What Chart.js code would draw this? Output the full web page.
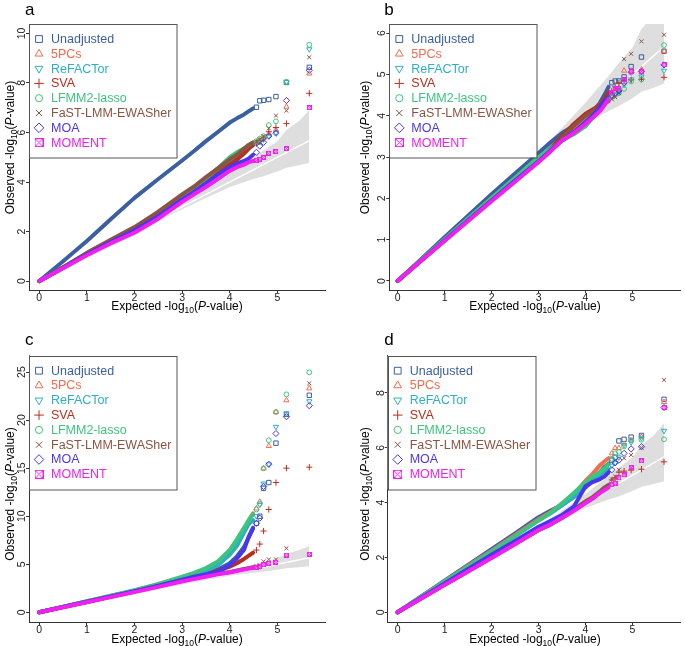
<!DOCTYPE html>
<html>
<head>
<meta charset="utf-8">
<script src="https://cdn.jsdelivr.net/npm/chart.js@4.4.1/dist/chart.umd.min.js"></script>
<style>
  body { margin: 0; background: #fff; width: 685px; height: 646px; position: relative; overflow: hidden; }
  canvas { position: absolute; }
</style>
</head>
<body>
<canvas id="pa" width="342" height="323" style="left:0;top:0"></canvas>
<canvas id="pb" width="343" height="323" style="left:342px;top:0"></canvas>
<canvas id="pc" width="342" height="323" style="left:0;top:323px"></canvas>
<canvas id="pd" width="343" height="323" style="left:342px;top:323px"></canvas>
<script>
// ---- data ----
const seriesNames = ["Unadjusted", "5PCs", "ReFACTor", "SVA", "LFMM2-lasso", "FaST-LMM-EWASher", "MOA", "MOMENT"];
const seriesColors = ["#3B5FA0", "#F46C4E", "#2EAFC2", "#B7301E", "#3DC57E", "#8B5440", "#4A35F0", "#F020F0"];

// expected -log10(P) positions: dense part of each curve, then the top-ranked single points
const bodyX = [0, 0.5, 1, 1.5, 2, 2.5, 3, 3.25, 3.5, 3.75, 4, 4.15, 4.3, 4.4, 4.49];
const tailX = [4.56, 4.63, 4.71, 4.82, 4.97, 5.19, 5.67];

// grey confidence band and the y = x reference line
const bandX  = [0, 1, 2, 3, 3.5, 4, 4.5, 4.67, 5.0, 5.19, 5.45, 5.67];
const bandLo = [0, 0.99, 1.96, 2.9, 3.35, 3.8, 4.12, 4.21, 4.42, 4.58, 4.68, 4.78];
const bandHi = [0, 1.01, 2.05, 3.13, 3.7, 4.32, 4.98, 5.22, 5.65, 6.1, 6.45, 6.9];
const diagX  = [0, 5.67];

const xTicks = [0, 1, 2, 3, 4, 5];
const yTicksA = [0, 2, 4, 6, 8, 10];
const yTicksB = [0, 1, 2, 3, 4, 5, 6];
const yTicksC = [0, 5, 10, 15, 20, 25];
const yTicksD = [0, 2, 4, 6, 8];

// panel a
const bodyA = [
  [0, 0.8, 1.62, 2.5, 3.36, 4.12, 4.87, 5.25, 5.65, 6.02, 6.4, 6.57, 6.73, 6.86, 6.97],
  [0, 0.54, 1.1, 1.62, 2.12, 2.72, 3.4, 3.7, 4.05, 4.4, 4.72, 4.95, 5.25, 5.45, 5.55],
  [0, 0.54, 1.1, 1.63, 2.13, 2.73, 3.42, 3.72, 4.08, 4.45, 4.78, 4.98, 5.2, 5.38, 5.48],
  [0, 0.54, 1.1, 1.62, 2.1, 2.7, 3.38, 3.68, 4.0, 4.35, 4.7, 4.9, 5.15, 5.35, 5.5],
  [0, 0.55, 1.12, 1.64, 2.15, 2.76, 3.45, 3.78, 4.15, 4.55, 5.0, 5.2, 5.35, 5.5, 5.6],
  [0, 0.56, 1.14, 1.67, 2.18, 2.8, 3.5, 3.82, 4.2, 4.55, 4.92, 5.1, 5.35, 5.5, 5.6],
  [0, 0.53, 1.08, 1.58, 2.05, 2.62, 3.3, 3.6, 3.95, 4.3, 4.6, 4.75, 4.85, 4.95, 5.1],
  [0, 0.52, 1.04, 1.52, 1.95, 2.52, 3.2, 3.5, 3.8, 4.12, 4.45, 4.6, 4.7, 4.8, 4.85]
];
const tailA = [
  [7.02, 7.28, 7.3, 7.33, 7.45, 8.02, 8.63],
  [5.6, 5.68, 5.78, 5.95, 6.1, 7.04, 8.38],
  [5.55, 5.62, 5.72, 5.85, 6.0, 8.04, 9.36],
  [5.58, 5.66, 5.75, 6.03, 6.2, 6.36, 7.58],
  [5.65, 5.75, 5.85, 6.3, 6.45, 8.05, 9.54],
  [5.62, 5.72, 5.85, 6.17, 6.68, 6.88, 9.04],
  [5.2, 5.45, 5.6, 5.85, 5.97, 7.29, 8.51],
  [4.88, 4.92, 4.99, 5.16, 5.23, 5.35, 7.0]
];

// panel b
const bodyB = [
  [0, 0.53, 1.06, 1.58, 2.1, 2.6, 3.1, 3.35, 3.58, 3.75, 3.95, 4.1, 4.3, 4.5, 4.7],
  [0, 0.5, 1.0, 1.5, 1.98, 2.47, 2.95, 3.2, 3.45, 3.7, 3.95, 4.1, 4.25, 4.4, 4.5],
  [0, 0.5, 1.0, 1.5, 1.99, 2.48, 2.97, 3.22, 3.45, 3.6, 3.75, 3.95, 4.15, 4.3, 4.4],
  [0, 0.5, 0.99, 1.48, 1.97, 2.45, 2.93, 3.2, 3.5, 3.8, 4.05, 4.15, 4.25, 4.4, 4.55],
  [0, 0.51, 1.01, 1.51, 2.01, 2.5, 3.0, 3.2, 3.4, 3.55, 3.75, 3.95, 4.15, 4.3, 4.4],
  [0, 0.49, 0.98, 1.46, 1.95, 2.42, 2.88, 3.15, 3.45, 3.75, 4.0, 4.1, 4.2, 4.3, 4.35],
  [0, 0.49, 0.98, 1.47, 1.95, 2.43, 2.9, 3.15, 3.4, 3.6, 3.85, 4.0, 4.2, 4.35, 4.45],
  [0, 0.49, 0.97, 1.45, 1.93, 2.4, 2.88, 3.13, 3.4, 3.58, 3.8, 3.95, 4.1, 4.25, 4.4]
];
const tailB = [
  [4.8, 4.84, 4.84, 4.94, 5.19, 5.42, 5.56],
  [4.55, 4.6, 4.67, 5.09, 5.09, 5.12, 5.56],
  [4.45, 4.5, 4.55, 4.75, 4.88, 4.95, 5.09],
  [4.6, 4.7, 4.79, 4.85, 4.87, 4.88, 4.93],
  [4.45, 4.5, 4.55, 4.65, 4.83, 4.88, 5.71],
  [4.4, 4.45, 4.55, 5.37, 5.5, 5.8, 5.96],
  [4.5, 4.55, 4.6, 4.8, 5.05, 5.07, 5.23],
  [4.55, 4.65, 4.65, 4.87, 5.07, 5.07, 5.23]
];

// panel c
const bodyC = [
  [0, 0.56, 1.12, 1.67, 2.22, 2.8, 3.45, 3.75, 4.1, 4.45, 5.1, 5.8, 6.8, 7.8, 8.7],
  [0, 0.56, 1.13, 1.7, 2.27, 2.9, 3.6, 3.95, 4.4, 5.0, 6.2, 7.2, 8.6, 9.6, 10.3],
  [0, 0.56, 1.12, 1.68, 2.25, 2.85, 3.55, 3.9, 4.3, 4.9, 6.0, 6.9, 8.3, 9.2, 9.6],
  [0, 0.55, 1.1, 1.65, 2.2, 2.78, 3.4, 3.68, 3.95, 4.3, 4.75, 5.1, 5.55, 5.9, 6.2],
  [0, 0.58, 1.15, 1.72, 2.3, 2.95, 3.7, 4.1, 4.6, 5.3, 6.5, 7.6, 8.8, 9.6, 10.2],
  [0, 0.54, 1.08, 1.62, 2.15, 2.7, 3.3, 3.55, 3.8, 4.0, 4.2, 4.35, 4.5, 4.6, 4.7],
  [0, 0.55, 1.1, 1.65, 2.2, 2.78, 3.4, 3.7, 3.95, 4.2, 4.9, 5.6, 6.5, 7.9, 8.8],
  [0, 0.52, 1.05, 1.58, 2.1, 2.65, 3.2, 3.45, 3.7, 3.95, 4.15, 4.3, 4.45, 4.55, 4.6]
];
const tailC = [
  [9.26, 10.0, 12.9, 13.5, 17.6, 20.6, 22.58],
  [10.8, 11.5, 14.98, 17.3, 20.84, 22.06, 23.3],
  [10.0, 11.2, 13.4, 15.4, 19.3, 20.7, 21.96],
  [6.48, 7.1, 8.46, 10.7, 13.5, 15.0, 15.1],
  [10.7, 11.3, 14.98, 17.9, 20.84, 22.68, 24.97],
  [4.8, 4.9, 5.3, 5.5, 5.5, 6.66, 23.83],
  [9.26, 9.8, 13.1, 15.4, 18.6, 20.35, 21.5],
  [4.7, 4.8, 4.95, 5.1, 5.2, 5.96, 6.03]
];

// panel d
const bodyD = [
  [0, 0.58, 1.15, 1.73, 2.3, 2.88, 3.47, 3.7, 3.92, 4.2, 4.55, 4.8, 5.1, 5.3, 5.42],
  [0, 0.57, 1.13, 1.7, 2.25, 2.82, 3.4, 3.65, 3.95, 4.3, 4.8, 5.05, 5.35, 5.5, 5.62],
  [0, 0.56, 1.12, 1.67, 2.22, 2.78, 3.35, 3.6, 3.9, 4.2, 4.6, 4.8, 5.0, 5.12, 5.22],
  [0, 0.5, 1.0, 1.5, 2.0, 2.5, 3.0, 3.2, 3.45, 3.72, 4.0, 4.15, 4.35, 4.5, 4.6],
  [0, 0.56, 1.12, 1.66, 2.2, 2.77, 3.35, 3.62, 3.98, 4.35, 4.75, 4.95, 5.1, 5.25, 5.4],
  [0, 0.5, 1.0, 1.5, 2.0, 2.5, 3.0, 3.2, 3.45, 3.75, 4.05, 4.2, 4.4, 4.55, 4.65],
  [0, 0.53, 1.05, 1.58, 2.1, 2.6, 3.12, 3.33, 3.55, 3.85, 4.6, 4.75, 4.85, 4.95, 5.1],
  [0, 0.5, 1.0, 1.49, 1.98, 2.48, 3.0, 3.2, 3.45, 3.7, 3.98, 4.15, 4.35, 4.45, 4.55]
];
const tailD = [
  [5.55, 5.66, 6.25, 6.31, 6.39, 6.45, 7.77],
  [5.8, 5.99, 5.99, 6.15, 6.27, 6.4, 7.67],
  [5.35, 5.45, 5.65, 6.1, 6.2, 6.35, 6.62],
  [4.83, 4.9, 5.11, 5.15, 5.19, 5.22, 5.49],
  [5.6, 5.8, 5.85, 6.05, 6.27, 6.29, 6.31],
  [4.85, 4.95, 5.2, 5.62, 5.74, 6.0, 8.48],
  [5.2, 5.45, 5.55, 5.8, 5.96, 6.04, 7.47],
  [4.65, 4.71, 4.9, 5.01, 5.28, 5.52, 7.47]
];

// ---- styling ----
const FONT = "'Liberation Sans', Arial, Helvetica, sans-serif";

// R's pch 7 (square with a cross) as an image point style
function boxCross(size, color) {
  const c = document.createElement("canvas");
  c.width = size; c.height = size;
  const g = c.getContext("2d");
  g.strokeStyle = color; g.lineWidth = 1;
  g.strokeRect(0.5, 0.5, size - 1, size - 1);
  g.beginPath();
  g.moveTo(0.5, 0.5); g.lineTo(size - 0.5, size - 0.5);
  g.moveTo(size - 0.5, 0.5); g.lineTo(0.5, size - 0.5);
  g.stroke();
  return c;
}

const markerStyles = ["rect", "triangle", "triangle", "cross", "circle", "crossRot", "rectRot", "boxX"];
const markerRot = [0, 0, 180, 0, 0, 0, 0, 0];
const markerRad = [3.1, 3, 3, 3.1, 2.4, 2.8, 3.1, 3];      // in the plot
const legendRad = [4.8, 4.5, 4.5, 4.8, 3.6, 4.3, 4.8, 4.8]; // in the legend

function pointStyleFor(i, big) {
  if (markerStyles[i] === "boxX") return boxCross(big ? 9 : 5, seriesColors[i]);
  return markerStyles[i];
}

function pts(xs, ys) {
  return xs.map((x, i) => ({ x: x, y: ys[i] }));
}

function richTitle(ctx, word, cx, baseY) {
  const parts = [
    { t: word + " -log", size: 12 },
    { t: "10", size: 8.5, dy: 3 },
    { t: "(", size: 12 },
    { t: "P", size: 12, italic: true },
    { t: "-value)", size: 12 }
  ];
  let total = 0;
  parts.forEach(p => {
    ctx.font = (p.italic ? "italic " : "") + p.size + "px " + FONT;
    p.w = ctx.measureText(p.t).width;
    total += p.w;
  });
  let x = cx - total / 2;
  ctx.textAlign = "left";
  ctx.textBaseline = "alphabetic";
  parts.forEach(p => {
    ctx.font = (p.italic ? "italic " : "") + p.size + "px " + FONT;
    ctx.fillText(p.t, x, baseY + (p.dy || 0));
    x += p.w;
  });
}

// titles, rotated y tick labels and the boxed legend
const decorPlugin = {
  id: "decor",
  afterDraw(chart) {
    const o = chart.options.plugins.decor;
    const ctx = chart.ctx;
    const area = chart.chartArea;
    ctx.save();
    ctx.fillStyle = "#000";

    // panel letter
    ctx.font = "17px " + FONT;
    ctx.textAlign = "left";
    ctx.textBaseline = "alphabetic";
    ctx.fillText(o.letter, o.letterX, o.letterY);

    // x title
    richTitle(ctx, "Expected", o.xTitleX, o.xTitleY);

    // y title
    ctx.save();
    ctx.translate(o.yTitleX, o.yTitleY);
    ctx.rotate(-Math.PI / 2);
    richTitle(ctx, "Observed", 0, 4);
    ctx.restore();

    // y tick labels, written vertically like R
    const ys = chart.scales.y;
    ctx.fillStyle = "#222";
    ctx.font = "10.5px " + FONT;
    ctx.textAlign = "center";
    o.yTicks.forEach(v => {
      ctx.save();
      ctx.translate(area.left - 8, ys.getPixelForValue(v));
      ctx.rotate(-Math.PI / 2);
      ctx.fillText(String(v), 0, 3.8);
      ctx.restore();
    });

    // legend
    const lx = area.left, ly = area.top, lw = 147.5, lh = 133.5;
    ctx.fillStyle = "#fff";
    ctx.fillRect(lx, ly, lw, lh);
    ctx.strokeStyle = "#555";
    ctx.lineWidth = 1;
    ctx.strokeRect(Math.round(lx) + 0.5, Math.round(ly) + 0.5, lw, lh);
    ctx.font = "12.5px " + FONT;
    ctx.textAlign = "left";
    ctx.textBaseline = "middle";
    seriesNames.forEach((name, i) => {
      const y = ly + 15 + i * 14.8;
      ctx.strokeStyle = seriesColors[i];
      ctx.fillStyle = "rgba(0,0,0,0)";
      ctx.lineWidth = 1;
      Chart.helpers.drawPoint(ctx, {
        pointStyle: pointStyleFor(i, true),
        radius: legendRad[i],
        rotation: markerRot[i],
        borderWidth: 1
      }, lx + 10, y);
      ctx.fillStyle = seriesColors[i];
      ctx.fillText(name, lx + 22, y + 0.5);
    });
    ctx.restore();
  }
};

function makePanel(id, geo, yMin, yMax, yTicks, body, tail, decor) {
  const datasets = [];
  datasets.push({
    data: pts(bandX, bandLo), showLine: true, borderWidth: 0,
    borderColor: "rgba(0,0,0,0)", pointRadius: 0, order: 100
  });
  datasets.push({
    data: pts(bandX, bandHi), showLine: true, borderWidth: 0,
    borderColor: "rgba(0,0,0,0)", backgroundColor: "#DEDEDE",
    fill: "-1", pointRadius: 0, order: 99
  });
  datasets.push({
    data: pts(diagX, diagX), showLine: true, borderWidth: 1.5,
    borderColor: "#fff", pointRadius: 0, order: 98
  });
  seriesNames.forEach((name, i) => {
    datasets.push({
      label: name,
      data: pts(bodyX, body[i]),
      showLine: true,
      borderColor: seriesColors[i],
      borderWidth: 4,
      borderCapStyle: "round",
      borderJoinStyle: "round",
      pointRadius: 0,
      order: 60 - i
    });
    datasets.push({
      label: name + " top",
      data: pts(tailX, tail[i]),
      showLine: false,
      pointStyle: pointStyleFor(i, false),
      pointRotation: markerRot[i],
      pointRadius: markerRad[i],
      pointBorderWidth: 1,
      pointBorderColor: seriesColors[i],
      pointBackgroundColor: i === 7 ? seriesColors[i] : "rgba(0,0,0,0)",
      order: 30 - i
    });
  });

  const axisColor = "#333";
  return new Chart(document.getElementById(id), {
    type: "scatter",
    data: { datasets: datasets },
    options: {
      responsive: false,
      animation: false,
      events: [],
      layout: { padding: { left: 0, top: geo.t, right: geo.w - geo.r, bottom: 0 } },
      plugins: {
        legend: { display: false },
        tooltip: { enabled: false },
        decor: Object.assign({ yTicks: yTicks }, decor)
      },
      scales: {
        x: {
          type: "linear",
          min: geo.xMin,
          max: geo.xMax,
          afterBuildTicks: s => { s.ticks = xTicks.map(v => ({ value: v })); },
          afterFit: s => { s.height = geo.h - geo.b; },
          grid: { drawOnChartArea: false, drawTicks: true, tickLength: 3, color: axisColor },
          border: { display: true, color: axisColor, width: 1 },
          ticks: { color: "#222", font: { family: FONT, size: 10.5 }, padding: -1, maxRotation: 0, autoSkip: false }
        },
        y: {
          type: "linear",
          min: yMin,
          max: yMax,
          afterBuildTicks: s => { s.ticks = yTicks.map(v => ({ value: v })); },
          afterFit: s => { s.width = geo.l; },
          grid: { drawOnChartArea: false, drawTicks: true, tickLength: 3, color: axisColor },
          border: { display: true, color: axisColor, width: 1 },
          ticks: { display: false }
        }
      }
    },
    plugins: [decorPlugin]
  });
}

makePanel("pa", { w: 342, h: 323, l: 29, r: 325, t: 24, b: 290, xMin: -0.216, xMax: 6.0 },
  -0.36, 10.38, yTicksA, bodyA, tailA,
  { letter: "a", letterX: 25, letterY: 15, xTitleX: 177, xTitleY: 310, yTitleX: 10, yTitleY: 147.5 });

makePanel("pb", { w: 343, h: 323, l: 47.3, r: 342, t: 24, b: 290, xMin: -0.176, xMax: 6.01 },
  -0.218, 6.22, yTicksB, bodyB, tailB,
  { letter: "b", letterX: 42.3, letterY: 15, xTitleX: 193, xTitleY: 310, yTitleX: 23, yTitleY: 147.5 });

makePanel("pc", { w: 342, h: 323, l: 29, r: 325, t: 32.7, b: 299.3, xMin: -0.216, xMax: 6.0 },
  -1.04, 26.7, yTicksC, bodyC, tailC,
  { letter: "c", letterX: 25, letterY: 22, xTitleX: 177, xTitleY: 319.5, yTitleX: 10, yTitleY: 171 });

makePanel("pd", { w: 343, h: 323, l: 45.7, r: 342, t: 32.7, b: 299.3, xMin: -0.21, xMax: 6.01 },
  -0.365, 9.36, yTicksD, bodyD, tailD,
  { letter: "d", letterX: 42.3, letterY: 22, xTitleX: 193, xTitleY: 319.5, yTitleX: 23, yTitleY: 171 });
</script>
</body>
</html>
